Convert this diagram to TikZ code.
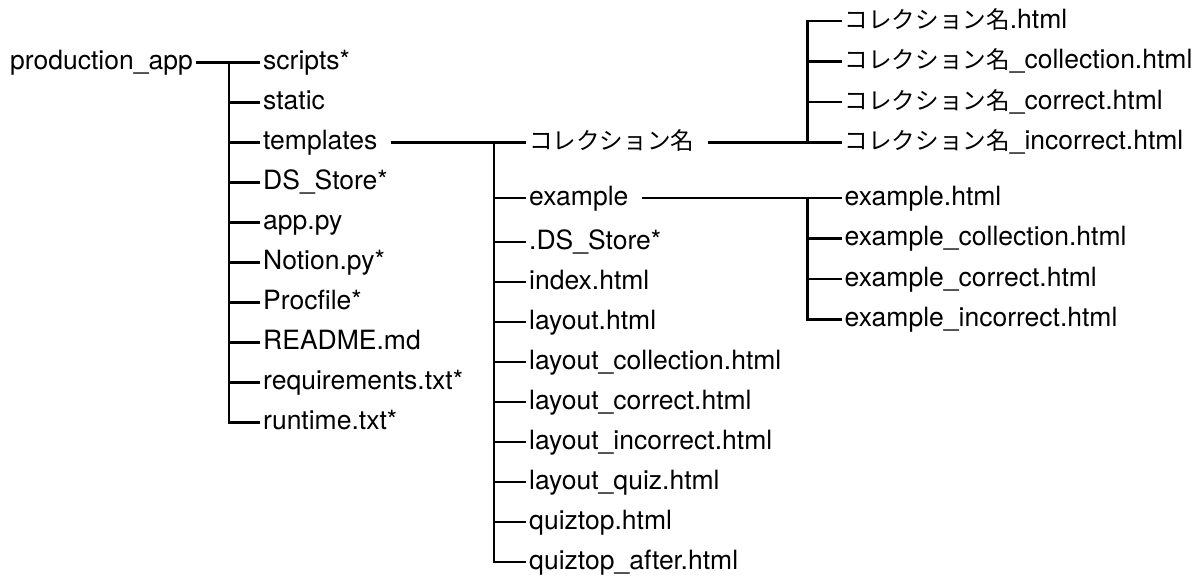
\documentclass[tikz,border=0pt]{standalone}
\usepackage{fontspec}
\setmainfont{TeX Gyre Heros}
\newfontfamily\cjk{Noto Sans CJK JP}[Scale=0.89]
\begin{document}
\begin{tikzpicture}[x=1pt,y=-1pt,
  file/.style={anchor=west, inner xsep=3pt, inner ysep=0pt,
    text height=19pt, text depth=5pt, font=\fontsize{26.5}{30}\selectfont},
  conn/.style={draw, line width=2.8pt, line join=miter},
  gap/.style={xshift=10pt}]
\useasboundingbox (0,0) rectangle (1204,579);

% root
\node[file] (root) at (7,62.5) {production\_app};
\coordinate (j1) at (229,62.5);

% level 1
\node[file] (s1) at (260,62.5) {scripts*};
\node[file] (s2) at (260,102.5) {static};
\node[file] (tpl) at (260,142.5) {templates};
\node[file] (ds) at (260,182.5) {DS\_Store*};
\node[file] (app) at (260,222.5) {app.py};
\node[file] (notion) at (260,262.5) {Notion.py*};
\node[file] (proc) at (260,302.5) {Procfile*};
\node[file] (readme) at (260,342.5) {README.md};
\node[file] (req) at (260,382.5) {requirements.txt*};
\node[file] (rt) at (260,422.5) {runtime.txt*};

\draw[conn] (root.east) -- (j1);
\foreach \c in {s1,s2,tpl,ds,app,notion,proc,readme,req,rt}
  \draw[conn] (j1) |- (\c.west);

% level 2 (templates)
\coordinate (j2) at (494,142.5);
\node[file] (col) at (526,142.5) {{\cjk コレクション名}};
\node[file] (ex) at (526,198) {example};
\node[file] (ds2) at (526,242) {.DS\_Store*};
\node[file] (idx) at (526,282) {index.html};
\node[file] (lay) at (526,322) {layout.html};
\node[file] (layc) at (526,362) {layout\_collection.html};
\node[file] (layr) at (526,402) {layout\_correct.html};
\node[file] (layi) at (526,442) {layout\_incorrect.html};
\node[file] (layq) at (526,482) {layout\_quiz.html};
\node[file] (qt) at (526,522) {quiztop.html};
\node[file] (qta) at (526,562) {quiztop\_after.html};

\draw[conn] ([gap]tpl.east) -- (j2);
\foreach \c in {col,ex,ds2,idx,lay,layc,layr,layi,layq,qt,qta}
  \draw[conn] (j2) |- (\c.west);

% level 3 (コレクション名)
\coordinate (j3) at (807.5,142.5);
\node[file] (c1) at (841.5,21) {{\cjk コレクション名}.html};
\node[file] (c2) at (841.5,61.5) {{\cjk コレクション名}\_collection.html};
\node[file] (c3) at (841.5,102) {{\cjk コレクション名}\_correct.html};
\node[file] (c4) at (841.5,142.5) {{\cjk コレクション名}\_incorrect.html};

\draw[conn] ([gap]col.east) -- (j3);
\foreach \c in {c1,c2,c3,c4}
  \draw[conn] (j3) |- (\c.west);

% level 3 (example)
\coordinate (j4) at (807.5,198);
\node[file] (e1) at (841.5,198) {example.html};
\node[file] (e2) at (841.5,238.5) {example\_collection.html};
\node[file] (e3) at (841.5,279) {example\_correct.html};
\node[file] (e4) at (841.5,319.5) {example\_incorrect.html};

\draw[conn] ([gap]ex.east) -- (j4);
\foreach \c in {e1,e2,e3,e4}
  \draw[conn] (j4) |- (\c.west);
\end{tikzpicture}
\end{document}
